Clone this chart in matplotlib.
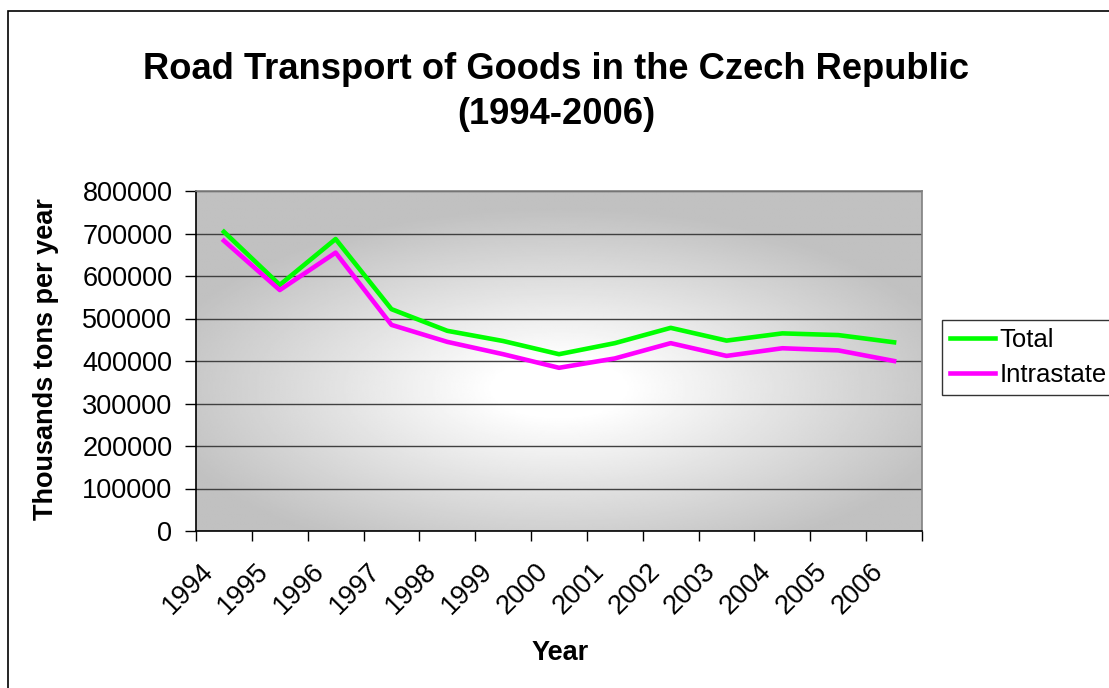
import numpy as np
import matplotlib.pyplot as plt
from matplotlib.patches import Rectangle
from matplotlib.transforms import ScaledTranslation

plt.rcParams['font.family'] = ['Liberation Sans', 'DejaVu Sans']

years = ['1994', '1995', '1996', '1997', '1998', '1999', '2000',
         '2001', '2002', '2003', '2004', '2005', '2006']
total = [704000, 579000, 687000, 522000, 471000, 447000, 416000,
         442000, 478000, 448000, 465000, 461000, 444000]
intrastate = [683000, 567000, 655000, 485000, 445000, 416000, 384000,
              406000, 442000, 412000, 430000, 425000, 400000]

W, H = 1109, 688
fig = plt.figure(figsize=(W / 100, H / 100), dpi=100)
ax = fig.add_axes([196 / W, 1 - 531 / H, 726 / W, 340 / H])

# gray-to-white radial fill of the plot area
gx, gy = np.meshgrid(np.linspace(0, 1, 400), np.linspace(0, 1, 300))
r = np.sqrt(((gx - 0.5) / 0.64) ** 2 + ((gy - 0.42) / 0.6) ** 2)
t = np.clip((r - 0.14) / 0.74, 0, 1)
shade = 1 - (1 - 0.757) * t
ax.imshow(shade, cmap='gray', vmin=0, vmax=1, extent=[-0.5, 12.5, 0, 800000],
          origin='lower', aspect='auto', zorder=0, interpolation='bilinear')

x = np.arange(len(years))
ax.plot(x, total, color='#00FF00', lw=3.3, label='Total', zorder=3)
ax.plot(x, intrastate, color='#FF00FF', lw=3.3, label='Intrastate', zorder=3)

ax.set_xlim(-0.5, 12.5)
ax.set_ylim(0, 800000)
ax.set_yticks(np.arange(0, 800001, 100000))
ax.set_yticklabels([str(v) for v in range(0, 800001, 100000)], fontsize=19.5)
ax.yaxis.grid(True, color='#404040', lw=1)
for gl in ax.get_ygridlines():
    gl.set_zorder(1)

ax.set_xticks(np.arange(-0.5, 13, 1))
ax.set_xticklabels([])
ax.set_xticks(x, minor=True)
ax.set_xticklabels(years, minor=True, rotation=45, ha='right', va='top',
                   fontsize=19.5, rotation_mode='anchor')
ax.tick_params(axis='x', which='minor', length=0, pad=0)
ax.tick_params(axis='x', which='major', length=7, width=1, direction='out')
ax.tick_params(axis='y', length=8, width=1, direction='out', pad=9)
for lab in ax.get_xticklabels(minor=True):
    lab.set_transform(lab.get_transform() + ScaledTranslation(-0.24, -0.27, fig.dpi_scale_trans))

ax.spines['left'].set_color('black')
ax.spines['bottom'].set_color('black')
ax.spines['top'].set_color('#808080')
ax.spines['right'].set_color('#808080')
for s in ax.spines.values():
    s.set_linewidth(1.2)

fig.text(46 / W, 1 - 359 / H, 'Thousands tons per year', rotation=90,
         ha='center', va='center', fontsize=19.5, fontweight='bold')
fig.text(560 / W, 1 - 653 / H, 'Year', ha='center', va='center',
         fontsize=19.5, fontweight='bold')

fig.text(556 / W, 1 - 92 / H, 'Road Transport of Goods in the Czech Republic\n(1994-2006)',
         ha='center', va='center', fontsize=26.2, fontweight='bold', linespacing=1.4)

leg = ax.legend(loc='upper left', bbox_to_anchor=(942 / W, 1 - 320 / H),
                bbox_transform=fig.transFigure, fontsize=18.5, frameon=True,
                fancybox=False, edgecolor='black', handlelength=1.75,
                handletextpad=0.2, borderpad=0.3, labelspacing=0.45,
                borderaxespad=0)
leg.get_frame().set_linewidth(1)

fig.patches.append(Rectangle((8 / W, -0.1), 1.2, 1.1 - 11 / H,
                             transform=fig.transFigure, fill=False,
                             edgecolor='black', lw=1.2))

fig.savefig('out.png', dpi=100)
